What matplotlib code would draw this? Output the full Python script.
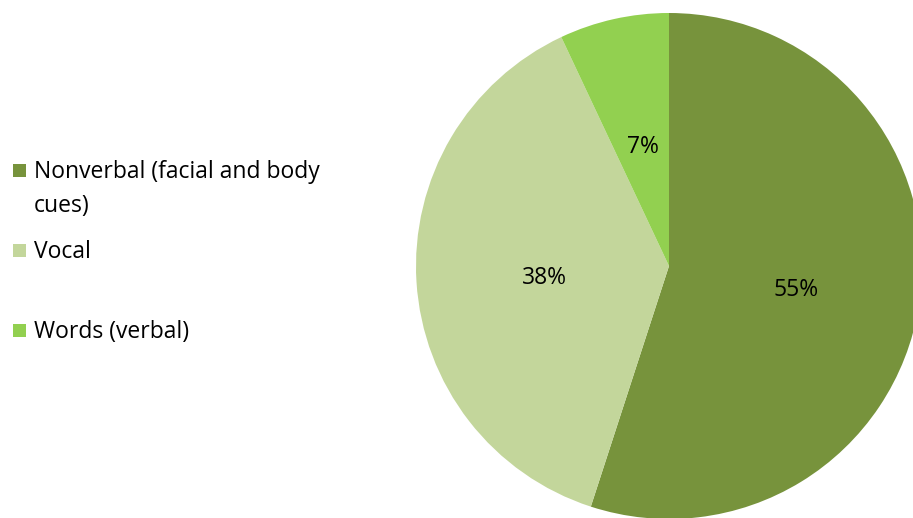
import matplotlib
matplotlib.use("Agg")
import matplotlib.pyplot as plt
from matplotlib.patches import Rectangle

categories = ["Nonverbal (facial and body\ncues)", "Vocal", "Words (verbal)"]
values = [55, 38, 7]
colors = ["#77933C", "#C3D69B", "#92D050"]

W, H = 913, 518
fig = plt.figure(figsize=(W / 100, H / 100), dpi=100)
ax = fig.add_axes([0, 0, 1, 1])

font = "Open Sans"
fs = 16.5
cx, cy, R = 669, H - 266, 253
wedges, texts, autotexts = ax.pie(
    values, colors=colors, startangle=90, counterclock=False,
    center=(cx, cy), radius=R, autopct="%d%%", pctdistance=0.5,
    textprops=dict(fontsize=fs, family=font, color="black"),
    wedgeprops=dict(linewidth=0), frame=True)
for t in autotexts:
    x, y = t.get_position()
    t.set_position((x + 2, y - 4))
ax.set_xlim(0, W)
ax.set_ylim(0, H)
ax.axis("off")

# legend drawn manually (irregular spacing as in the reference)
sq_y = [164, 244, 324]
base_y = [178, 258, 338]
for lab, c, sy, by in zip(categories, colors, sq_y, base_y):
    ax.add_patch(Rectangle((13, H - sy - 13), 13, 13, facecolor=c, edgecolor="none"))
    lines = lab.split("\n")
    for i, ln in enumerate(lines):
        ax.text(34, H - by - i * 34, ln, fontsize=fs, family=font,
                va="baseline", ha="left", color="black")

fig.savefig("out.png", dpi=100)
